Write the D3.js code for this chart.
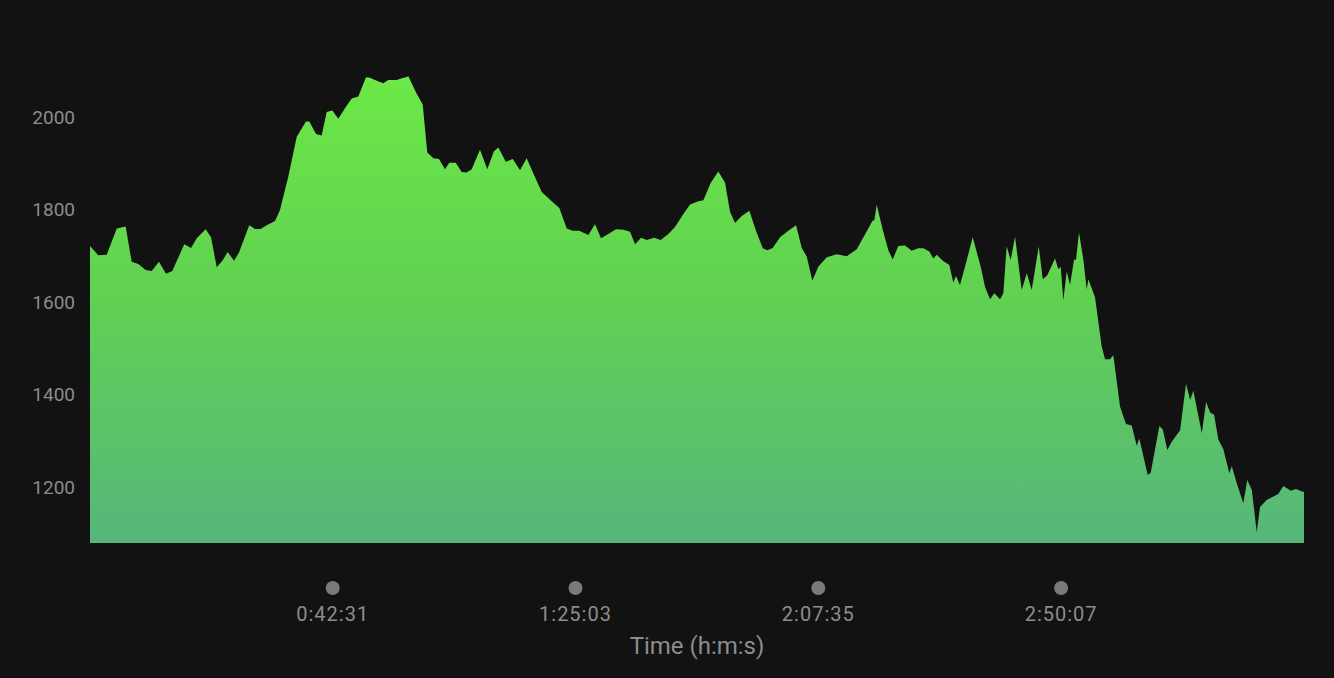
<!DOCTYPE html>
<html>
<head>
<meta charset="utf-8">
<script src="https://cdn.jsdelivr.net/npm/d3@7"></script>
<style>
  html, body { margin: 0; padding: 0; background: #121212; }
  svg { display: block; }
</style>
</head>
<body>
<svg width="1334" height="678"></svg>
<script>
// elapsed time in seconds
var times = [0, 87, 176, 281, 375, 438, 508, 585, 649, 725, 799, 865, 991, 1062, 1122, 1216, 1272, 1332, 1391, 1447,
  1514, 1566, 1674, 1734, 1794, 1857, 1945, 1997, 2084, 2173, 2270, 2305, 2376, 2435, 2488, 2547, 2610, 2680, 2751, 2820,
  2901, 2943, 3020, 3083, 3135, 3224, 3287, 3322, 3346, 3427, 3497, 3545, 3609, 3668, 3731, 3777, 3844, 3907, 3959, 4012,
  4099, 4176, 4246, 4292, 4370, 4443, 4520, 4590, 4660, 4748, 4853, 4933, 5011, 5074, 5143, 5238, 5308, 5371, 5448, 5529,
  5606, 5676, 5729, 5792, 5852, 5928, 5999, 6079, 6149, 6230, 6307, 6394, 6447, 6524, 6604, 6675, 6727, 6780, 6850, 6930,
  7000, 7071, 7119, 7176, 7253, 7340, 7421, 7481, 7534, 7592, 7655, 7744, 7849, 7954, 8059, 8157, 8227, 8244, 8269, 8332,
  8391, 8437, 8496, 8566, 8637, 8706, 8759, 8822, 8864, 8900, 8963, 9032, 9074, 9102, 9144, 9197, 9278, 9362, 9407, 9460,
  9505, 9565, 9600, 9635, 9677, 9723, 9793, 9846, 9898, 9972, 10014, 10062, 10143, 10178, 10203, 10230, 10266, 10301, 10343, 10364,
  10395, 10441, 10476, 10493, 10563, 10634, 10669, 10721, 10756, 10826, 10889, 10949, 11002, 11029, 11117, 11149, 11240, 11275, 11324, 11370,
  11458, 11520, 11563, 11597, 11686, 11731, 11773, 11815, 11860, 11912, 11975, 12001, 12053, 12122, 12164, 12211, 12263, 12298, 12368, 12490,
  12543, 12621, 12676, 12746, 12760];

var values = [1721, 1701, 1702, 1759, 1763, 1687, 1682, 1669, 1667, 1687, 1661, 1667, 1725, 1717, 1738, 1757, 1740, 1675, 1689, 1708,
  1689, 1707, 1766, 1758, 1758, 1766, 1775, 1799, 1871, 1957, 1990, 1990, 1963, 1960, 2011, 2014, 1996, 2019, 2040, 2044,
  2086, 2085, 2078, 2073, 2080, 2080, 2084, 2086, 2088, 2053, 2027, 1923, 1911, 1909, 1887, 1901, 1901, 1881, 1880, 1887,
  1929, 1887, 1926, 1934, 1903, 1909, 1885, 1911, 1878, 1838, 1818, 1803, 1759, 1754, 1754, 1745, 1768, 1738, 1747, 1757,
  1756, 1752, 1725, 1739, 1734, 1739, 1734, 1747, 1762, 1788, 1811, 1818, 1820, 1857, 1882, 1858, 1795, 1771, 1786, 1797,
  1754, 1716, 1712, 1717, 1740, 1754, 1766, 1717, 1698, 1646, 1676, 1697, 1703, 1699, 1714, 1750, 1776, 1776, 1810, 1756,
  1712, 1692, 1721, 1722, 1711, 1716, 1716, 1709, 1694, 1702, 1689, 1680, 1642, 1656, 1637, 1676, 1740, 1676, 1633, 1606,
  1619, 1606, 1619, 1720, 1691, 1741, 1626, 1662, 1626, 1720, 1649, 1658, 1694, 1671, 1676, 1604, 1666, 1637, 1692, 1691,
  1750, 1691, 1627, 1649, 1611, 1503, 1476, 1476, 1485, 1374, 1336, 1333, 1289, 1305, 1226, 1231, 1332, 1325, 1280, 1298,
  1323, 1423, 1388, 1408, 1316, 1384, 1361, 1356, 1302, 1282, 1230, 1245, 1208, 1165, 1215, 1194, 1103, 1157, 1172, 1185,
  1202, 1192, 1196, 1190, 1190];

var yTicks = [1200, 1400, 1600, 1800, 2000];
var xTicks = [2551, 5103, 7655, 10207];
var xTickLabels = ["0:42:31", "1:25:03", "2:07:35", "2:50:07"];
var xTitle = "Time (h:m:s)";

var svg = d3.select("svg");

var x = d3.scaleLinear()
  .domain([0, 12760])
  .range([90, 1304]);

var y = d3.scaleLinear()
  .domain([1079, 2188])
  .range([543, 30]);

var points = times.map(function(t, i) { return [t, values[i]]; });

// fill gradient, bright green on top fading to teal at the base
var grad = svg.append("defs").append("linearGradient")
  .attr("id", "fillGrad")
  .attr("gradientUnits", "userSpaceOnUse")
  .attr("x1", 0).attr("x2", 0)
  .attr("y1", y(d3.max(values))).attr("y2", y(1079));
grad.append("stop").attr("offset", "0%").attr("stop-color", "#6ce847");
grad.append("stop").attr("offset", "45%").attr("stop-color", "#61d251");
grad.append("stop").attr("offset", "100%").attr("stop-color", "#57b67b");

var area = d3.area()
  .x(function(d) { return x(d[0]); })
  .y0(y(1079))
  .y1(function(d) { return y(d[1]); });

svg.append("path")
  .datum(points)
  .attr("d", area)
  .style("fill", "url(#fillGrad)");

var font = "Roboto, 'Liberation Sans', sans-serif";

// y labels
svg.selectAll("text.ylab")
  .data(yTicks)
  .enter().append("text")
  .attr("class", "ylab")
  .attr("x", 75)
  .attr("y", function(d) { return y(d); })
  .attr("dy", "0.35em")
  .attr("text-anchor", "end")
  .style("font-family", font)
  .style("font-size", "19px")
  .style("fill", "#8c8c8c")
  .text(function(d) { return d; });

// x ticks: dot + label
svg.selectAll("circle.xdot")
  .data(xTicks)
  .enter().append("circle")
  .attr("class", "xdot")
  .attr("cx", function(d) { return x(d); })
  .attr("cy", 588)
  .attr("r", 7)
  .style("fill", "#7a7a7a");

svg.selectAll("text.xlab")
  .data(xTicks)
  .enter().append("text")
  .attr("class", "xlab")
  .attr("x", function(d) { return x(d); })
  .attr("y", 621)
  .attr("text-anchor", "middle")
  .style("font-family", font)
  .style("font-size", "20px")
  .style("letter-spacing", "1px")
  .style("fill", "#8c8c8c")
  .text(function(d, i) { return xTickLabels[i]; });

svg.append("text")
  .attr("x", (x.range()[0] + x.range()[1]) / 2)
  .attr("y", 654)
  .attr("text-anchor", "middle")
  .style("font-family", font)
  .style("font-size", "24px")
  .style("fill", "#8c8c8c")
  .text(xTitle);
</script>
</body>
</html>
